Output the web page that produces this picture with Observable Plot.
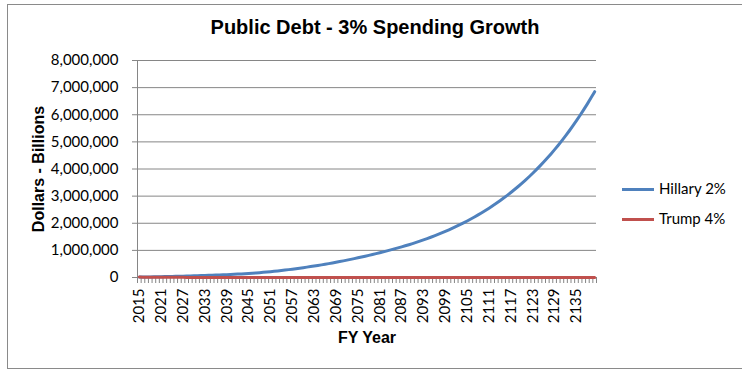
<!DOCTYPE html>
<html><head><meta charset="utf-8">
<script src="https://cdn.jsdelivr.net/npm/d3@7"></script>
<script src="https://cdn.jsdelivr.net/npm/@observablehq/plot@0.6"></script>
<style>
body{margin:0;background:#fff;}
#wrap{position:relative;width:742px;height:373px;overflow:hidden;font-family:Lato,sans-serif;}
#frame{position:absolute;left:7px;top:4px;width:800px;height:365px;border:1px solid #8a8a8a;box-sizing:border-box;}
#chart{position:absolute;left:0;top:0;}
#title{position:absolute;left:0;top:16px;width:750px;text-align:center;font:bold 20px "Liberation Sans",Arial,sans-serif;color:#000;}
.leg{position:absolute;left:622px;height:20px;font:15px Lato,sans-serif;color:#000;white-space:nowrap;}
.leg .sw{position:absolute;left:0;top:8px;width:32px;height:3px;}
.leg .lb{position:absolute;left:37px;top:-1px;line-height:19px;}
</style></head>
<body>
<div id="wrap"><div id="frame"></div><div id="chart"></div><div id="title"></div><div id="legend"></div></div>
<script>
const years = d3.range(2015, 2141);
const hillary = [
 14000, 16500, 19000, 22000, 24500, 27000, 30000, 33000, 36000, 39500,
 43000, 46500, 50000, 54000, 58000, 62000, 66000, 70500, 75000, 79500,
 84000, 89000, 94000, 99500, 105000, 111000, 118000, 125000, 133000, 141000,
 150000, 159000, 169000, 179000, 190000, 202000, 215000, 228000, 242000, 257000,
 273000, 290000, 307000, 326000, 345000, 363000, 382000, 402000, 423000, 444000,
 466000, 489000, 512000, 536000, 561000, 587000, 613000, 640000, 668000, 696000,
 725000, 755000, 785000, 816000, 848000, 880000, 913000, 946000, 980000, 1017000,
 1055000, 1092000, 1129000, 1169000, 1209000, 1251000, 1294000, 1339000, 1385000, 1433000,
 1483000, 1534000, 1587000, 1642000, 1699000, 1758000, 1819000, 1882000, 1947000, 2014000,
 2084000, 2156000, 2230000, 2307000, 2387000, 2470000, 2555000, 2644000, 2735000, 2830000,
 2928000, 3029000, 3134000, 3243000, 3355000, 3471000, 3591000, 3715000, 3844000, 3977000,
 4114000, 4257000, 4404000, 4556000, 4714000, 4877000, 5046000, 5220000, 5401000, 5588000,
 5781000, 5981000, 6188000, 6402000, 6624000, 6850000
];
const trump = [
 14000, 13800, 13500, 13100, 12600, 12000, 11300, 10500, 9600, 8600,
 7500, 6300, 5000, 3600, 2100, 600, 0, 0, 0, 0,
 0, 0, 0, 0, 0, 0, 0, 0, 0, 0,
 0, 0, 0, 0, 0, 0, 0, 0, 0, 0,
 0, 0, 0, 0, 0, 0, 0, 0, 0, 0,
 0, 0, 0, 0, 0, 0, 0, 0, 0, 0,
 0, 0, 0, 0, 0, 0, 0, 0, 0, 0,
 0, 0, 0, 0, 0, 0, 0, 0, 0, 0,
 0, 0, 0, 0, 0, 0, 0, 0, 0, 0,
 0, 0, 0, 0, 0, 0, 0, 0, 0, 0,
 0, 0, 0, 0, 0, 0, 0, 0, 0, 0,
 0, 0, 0, 0, 0, 0, 0, 0, 0, 0,
 0, 0, 0, 0, 0, 0
];
const seriesNames = ["Hillary 2%", "Trump 4%"];
const seriesColors = ["#4F81BD", "#C0504D"];
const yTicks = [0, 1000000, 2000000, 3000000, 4000000, 5000000, 6000000, 7000000, 8000000];
const xLabelYears = [2015, 2021, 2027, 2033, 2039, 2045, 2051, 2057, 2063, 2069, 2075, 2081, 2087, 2093, 2099, 2105, 2111, 2117, 2123, 2129, 2135];
const titleText = "Public Debt - 3% Spending Growth";
const yTitle = "Dollars - Billions";
const xTitle = "FY Year";

const rows = years.flatMap((yr, i) => [
  {year: yr, value: hillary[i], series: seriesNames[0]},
  {year: yr, value: trump[i], series: seriesNames[1]}
]);
const boundaries = years.map(y => y - 0.5).concat([years[years.length - 1] + 0.5]);

const chart = Plot.plot({
  width: 742, height: 373,
  marginLeft: 137, marginRight: 146, marginTop: 60, marginBottom: 96,
  style: {fontFamily: "Lato, sans-serif", fontSize: "15px", color: "#000", background: "transparent", overflow: "visible"},
  x: {type: "linear", domain: [boundaries[0], boundaries[boundaries.length - 1]]},
  y: {domain: [0, 8000000]},
  color: {domain: seriesNames, range: seriesColors},
  marks: [
    Plot.gridY(yTicks, {stroke: "#868686", strokeOpacity: 1}),
    Plot.axisY(yTicks, {tickSize: 5, tickPadding: 14, tickFormat: d3.format(","), stroke: "#868686", label: null}),
    Plot.axisX(boundaries, {tickSize: 6, tickFormat: () => "", stroke: "#868686", label: null}),
    Plot.axisX(xLabelYears, {tickSize: 0, tickPadding: 11, tickRotate: -90, tickFormat: d => String(d), label: null}),
    Plot.ruleX([boundaries[0]], {stroke: "#868686"}),
    Plot.ruleY([0], {stroke: "#868686"}),
    Plot.line(rows, {x: "year", y: "value", z: "series", stroke: "series", strokeWidth: 3}),
    Plot.text([yTitle], {frameAnchor: "left", textAnchor: "middle", dx: -99, rotate: -90, fontWeight: "bold", fontSize: 16, fontFamily: "Liberation Sans, Arial, sans-serif", fill: "#000"}),
    Plot.text([xTitle], {frameAnchor: "bottom", dy: 65, fontWeight: "bold", fontSize: 16, fontFamily: "Liberation Sans, Arial, sans-serif", fill: "#000"})
  ]
});
document.getElementById("chart").appendChild(chart);
document.getElementById("title").textContent = titleText;

const legendY = [180, 210];
const leg = d3.select("#legend");
seriesNames.forEach((name, i) => {
  const item = leg.append("div").attr("class", "leg").style("top", legendY[i] + "px");
  item.append("div").attr("class", "sw").style("background", seriesColors[i]);
  item.append("div").attr("class", "lb").text(name);
});
</script>
</body></html>
